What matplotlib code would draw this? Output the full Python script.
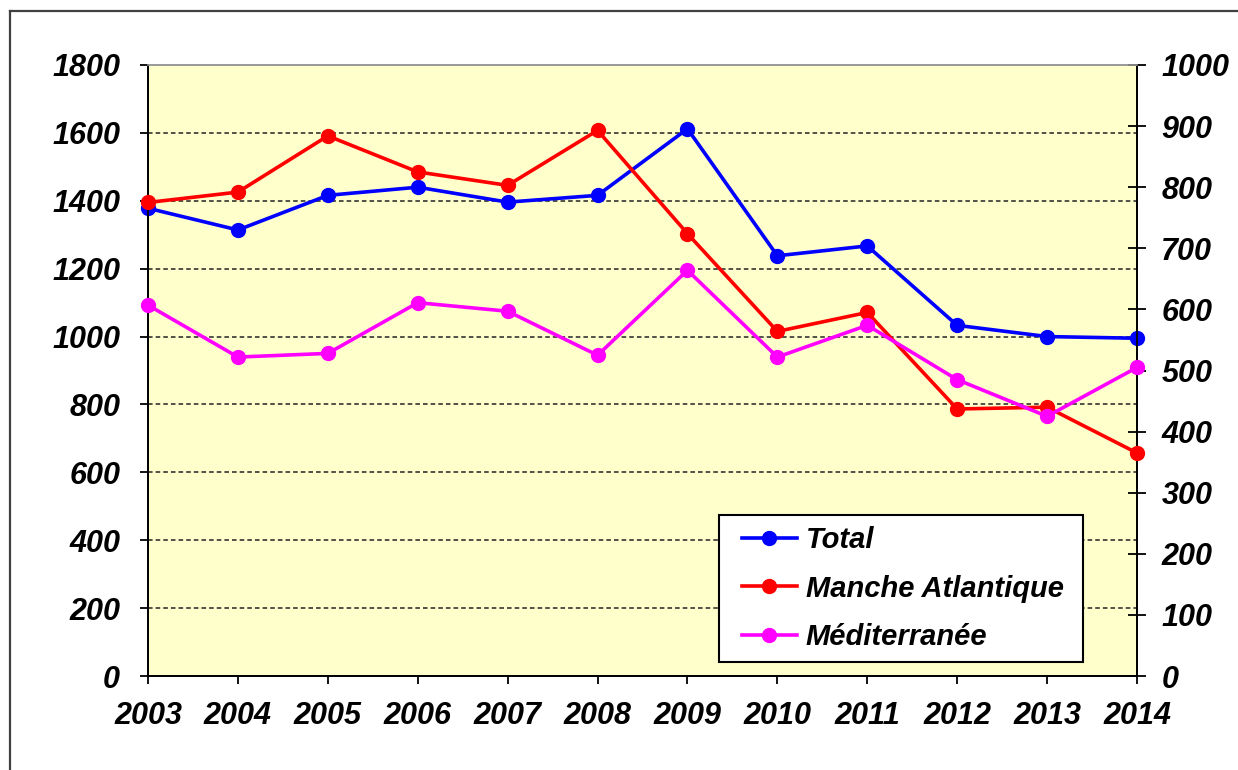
import matplotlib

matplotlib.use("Agg")
import matplotlib.pyplot as plt
from matplotlib.font_manager import FontProperties
from matplotlib.lines import Line2D
from matplotlib.patches import Rectangle

years = [2003, 2004, 2005, 2006, 2007, 2008, 2009, 2010, 2011, 2012, 2013, 2014]
total = [1378, 1314, 1416, 1440, 1396, 1416, 1612, 1238, 1267, 1033, 1000, 995]
manche_atlantique = [775, 792, 884, 825, 803, 893, 724, 564, 595, 437, 440, 365]
mediterranee = [607, 522, 528, 611, 597, 525, 664, 522, 574, 485, 425, 505]

left_ticks = list(range(0, 1801, 200))
right_ticks = list(range(0, 1001, 100))

FONT = "Liberation Sans"
tick_font = FontProperties(family=FONT, weight="bold", style="italic", size=22)
legend_font = FontProperties(family=FONT, weight="bold", style="italic", size=21)

fig = plt.figure(figsize=(12.38, 7.70), dpi=100)
fig.patch.set_facecolor("white")

# outer frame of the original picture (top and left edges visible only)
fig.add_artist(Line2D([10 / 1238, 10 / 1238], [0, 1 - 11 / 770],
                      transform=fig.transFigure, color="#404040", lw=1.6))
fig.add_artist(Line2D([10 / 1238, 1], [1 - 11 / 770, 1 - 11 / 770],
                      transform=fig.transFigure, color="#404040", lw=1.6))

ax = fig.add_axes([148 / 1238, 1 - 676 / 770, (1137 - 148) / 1238, (676 - 65) / 770])
ax.set_facecolor("#FFFFCC")
ax2 = ax.twinx()

h1, = ax.plot(years, total, color="#0000FF", lw=2.6, marker="o", ms=10,
              label="Total", clip_on=False, zorder=3)
h2, = ax2.plot(years, manche_atlantique, color="#FF0000", lw=2.6, marker="o", ms=10,
               label="Manche Atlantique", clip_on=False, zorder=3)
h3, = ax2.plot(years, mediterranee, color="#FF00FF", lw=2.6, marker="o", ms=10,
               label="Méditerranée", clip_on=False, zorder=3)

ax.set_xlim(years[0], years[-1])
ax.set_ylim(0, 1800)
ax2.set_ylim(0, 1000)
ax.set_xticks(years)
ax.set_xticklabels([str(y) for y in years])
ax.set_yticks(left_ticks)
ax.set_yticklabels([str(v) for v in left_ticks])
ax2.set_yticks(right_ticks)
ax2.set_yticklabels([str(v) for v in right_ticks])

for lab in ax.get_xticklabels() + ax.get_yticklabels() + ax2.get_yticklabels():
    lab.set_fontproperties(tick_font)

ax.tick_params(axis="y", direction="out", length=6, width=1.3, pad=14)
ax.tick_params(axis="x", direction="out", length=6, width=1.3, pad=12)
ax2.tick_params(axis="y", direction="inout", length=13, width=1.3, pad=11)

# dashed grid from the left axis, skipping the 0 and 1800 lines
for v in left_ticks[1:-1]:
    ax.axhline(v, color="#222222", lw=1.1, ls=(0, (3, 2)), zorder=1)

for a in (ax, ax2):
    a.spines["left"].set_linewidth(1.3)
    a.spines["bottom"].set_linewidth(1.3)
    a.spines["right"].set_linewidth(1.3)
    a.spines["top"].set_color("#999999")
    a.spines["top"].set_linewidth(1.2)

# legend box drawn separately so its size matches the original
ax2.add_patch(Rectangle((0.5774, 0.0229), 0.368, 0.2406, transform=ax2.transAxes,
                        facecolor="white", edgecolor="black", lw=1.5, zorder=4))
leg = ax2.legend(handles=[h1, h2, h3], loc="center", bbox_to_anchor=(0.763, 0.143),
                 prop=legend_font, handlelength=1.9, handletextpad=0.3,
                 labelspacing=0.71, borderpad=0, borderaxespad=0, frameon=False)
leg.set_zorder(5)

fig.savefig("out.png", dpi=100)
